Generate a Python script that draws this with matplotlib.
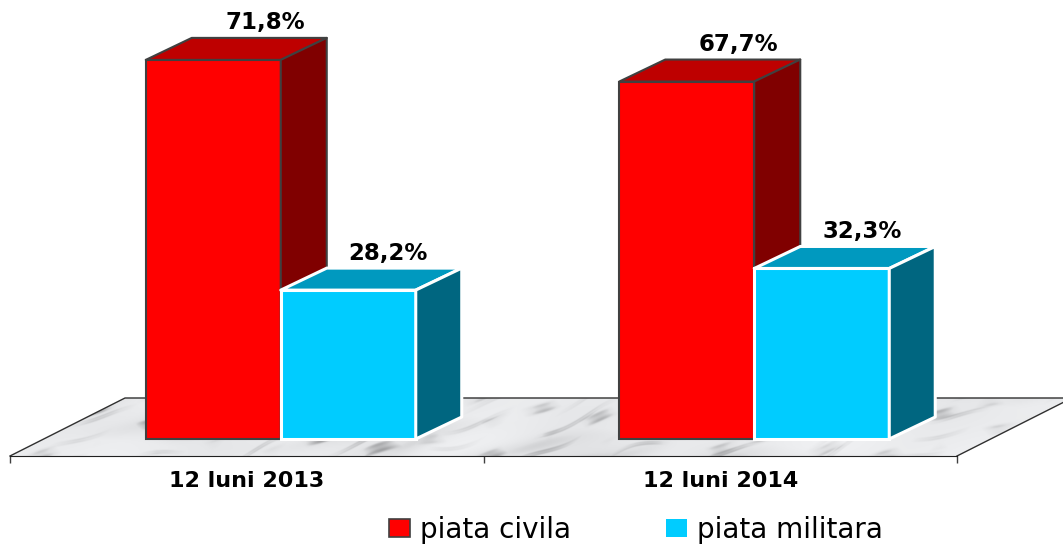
import matplotlib
matplotlib.use('Agg')
import matplotlib.pyplot as plt
import numpy as np
from matplotlib.patches import Patch, Polygon
from matplotlib.colors import LinearSegmentedColormap

categories = ['12 luni 2013', '12 luni 2014']
civila = [71.8, 67.7]
militara = [28.2, 32.3]
series_names = ['piata civila', 'piata militara']

# scale of the picture
px_x = 473.5
px_y = 5.28
bar_w = 135 / px_x
shift = 34 / px_x
dx = 46 / px_x
dy = 22 / px_y
floor_y = -17 / px_y
floor_back = 58 / px_y
floor_dx = 115 / px_x

fig = plt.figure(figsize=(10.63, 5.44), dpi=100)
ax = fig.add_axes([0, 0, 1, 1])
xlim = (-0.5 - 10 / px_x, -0.5 + 1053 / px_x)
ylim = (-105 / px_y, 439 / px_y)

# marble floor, soft diagonal streaks made from sine waves
xs = np.linspace(0, 1180, 1180)
ys = np.linspace(0, 58, 116)
X, Y = np.meshgrid(xs, ys)
P = X + 3.5 * Y
S = 3.5 * X - Y
bend = 14 * np.sin(S / 150) + 7 * np.sin(S / 67 + 1.1)
w1 = np.sin((P + bend) / 17.0)
w2 = np.sin((P - bend) / 38.0 + 0.8)
w3 = np.sin((P + 2 * bend) / 9.5 + 2.1)
env1 = np.clip(np.sin(S / 110 + P / 60) * np.sin(S / 47 - P / 90), 0, 1)
env2 = np.clip(np.sin(S / 190 - P / 75 + 1.7), 0, 1)
env3 = np.clip(np.sin(S / 80 + P / 45 + 0.6), 0, 1)
veins = 0.42 * np.exp(-((w1 - 0.8) / 0.35) ** 2) * env1
veins = veins + 0.30 * np.exp(-((w2 - 0.3) / 0.8) ** 2) * env2
veins = veins + 0.26 * np.exp(-((w3 - 0.9) / 0.25) ** 2) * env3
veins = veins + 0.10 * (1 + np.sin(P / 90 + 0.5) * np.sin(S / 140))
marble = LinearSegmentedColormap.from_list('marble', ['#F0F1F3', '#DFE0E2', '#A6A7A9', '#77787A'])
floor_pts = [(-0.5, floor_y), (-0.5 + floor_dx, floor_y + floor_back),
             (1.5 + floor_dx, floor_y + floor_back), (1.5, floor_y)]
img = ax.imshow(veins, cmap=marble, vmin=0, vmax=1.0, aspect='auto', origin='upper', interpolation='bilinear',
                extent=(-0.5, -0.5 + 1180 / px_x, floor_y, floor_y + floor_back), zorder=1)
clip = Polygon(floor_pts, transform=ax.transData, fc='none', ec='none')
ax.add_patch(clip)
img.set_clip_path(clip)
ax.plot([floor_pts[0][0], floor_pts[1][0], floor_pts[2][0]],
        [floor_pts[0][1], floor_pts[1][1], floor_pts[2][1]], color='#303030', lw=1, zorder=2)
ax.plot([floor_pts[2][0], floor_pts[3][0]], [floor_pts[2][1], floor_pts[3][1]],
        color='#303030', lw=1, zorder=2)


def box(x0, value, front, top, side, edge, lw, z):
    ax.bar(x0, value, bar_w, align='edge', color=front, edgecolor=edge, linewidth=lw, zorder=z)
    x1 = x0 + bar_w
    ax.add_patch(Polygon([(x0, value), (x0 + dx, value + dy), (x1 + dx, value + dy), (x1, value)],
                         fc=top, ec=edge, lw=lw, zorder=z, joinstyle='round'))
    ax.add_patch(Polygon([(x1, 0), (x1 + dx, dy), (x1 + dx, value + dy), (x1, value)],
                         fc=side, ec=edge, lw=lw, zorder=z, joinstyle='round'))


label_font = dict(ha='center', va='center', fontsize=16.5, fontweight='bold', family='DejaVu Sans', color='black', zorder=10)
for i in range(len(categories)):
    left = i + shift - bar_w
    box(left, civila[i], '#FF0000', '#BE0000', '#800000', '#404040', 1.5, 3 + i * 2)
    box(i + shift, militara[i], '#00CCFF', '#0099BF', '#006680', 'white', 2.2, 4 + i * 2)
    ax.text(left + bar_w / 2 + 52 / px_x, civila[i] + 37 / px_y, f'{civila[i]:.1f}%'.replace('.', ','), **label_font)
    ax.text(i + shift + bar_w / 2 + 40 / px_x, militara[i] + 37 / px_y, f'{militara[i]:.1f}%'.replace('.', ','), **label_font)

# axis along the front of the floor
ax.set_xlim(xlim)
ax.set_ylim(ylim)
for name in ['top', 'left', 'right']:
    ax.spines[name].set_visible(False)
ax.spines['bottom'].set_position(('data', floor_y))
ax.spines['bottom'].set_bounds(-0.5, 1.5)
ax.spines['bottom'].set_color('#202020')
ax.spines['bottom'].set_zorder(2)
ax.set_yticks([])
ax.set_xticks([-0.5, 0.5, 1.5])
ax.set_xticklabels([])
ax.set_xticks([0, 1], minor=True)
ax.set_xticklabels(categories, minor=True, fontsize=16, fontweight='bold', family='DejaVu Sans')
ax.tick_params(axis='x', which='major', length=5, width=1, color='#404040')
ax.tick_params(axis='x', which='minor', length=0, pad=11)
ax.patch.set_visible(False)

handles = [Patch(fc='#FF0000', ec='#404040', lw=1.2), Patch(fc='#00CCFF', ec='none')]
ax.legend(handles, series_names, ncol=2, loc='center', bbox_to_anchor=(0.5985, 0.0265), frameon=False,
          prop={'family': 'DejaVu Sans', 'size': 20}, handlelength=0.75, handleheight=0.6,
          handletextpad=0.36, columnspacing=3.42, borderpad=0, borderaxespad=0)

fig.savefig('out.png', dpi=100)
